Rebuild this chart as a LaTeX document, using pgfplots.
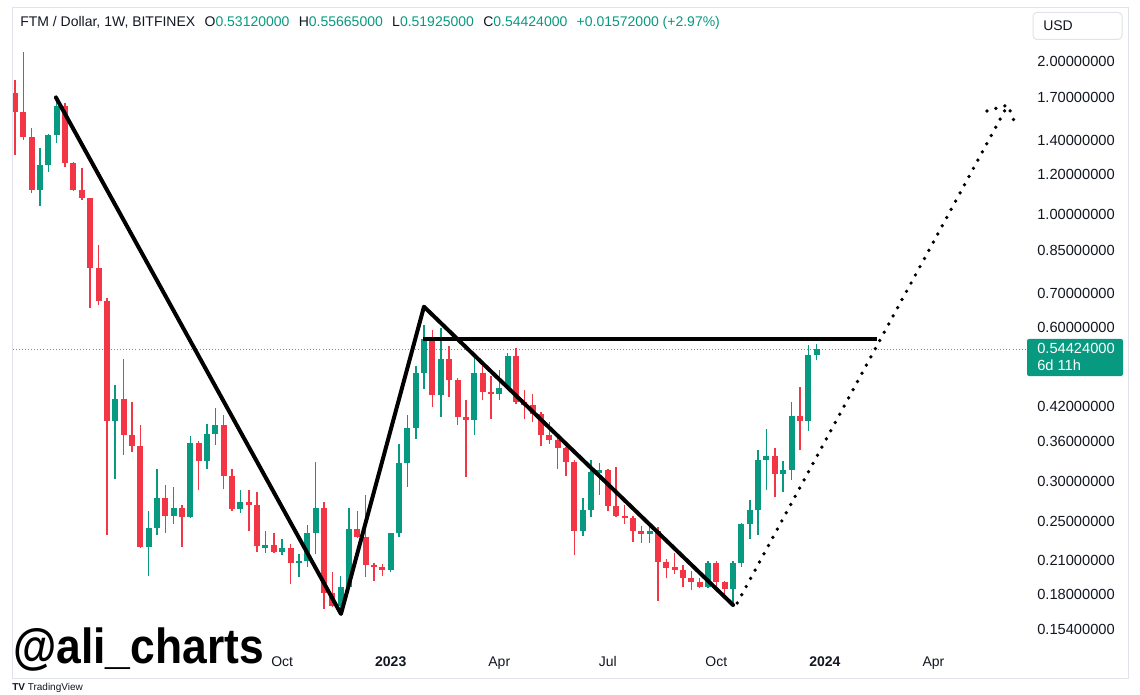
\documentclass[border=0pt]{standalone}
\usepackage{pgfplots}
\pgfplotsset{compat=1.18}
\usepackage{pgfplotstable}
\usepackage{fontspec}
\setmainfont{Liberation Sans}
\definecolor{tvgreen}{HTML}{089981}
\definecolor{tvred}{HTML}{F23645}
\definecolor{tvtext}{HTML}{131722}
\definecolor{tvframe}{HTML}{E0E3EB}

% weekly candles, FTM / Dollar, week 0 = 21 Feb 2022
\pgfplotstableread{
i o h l c
0 1.733 1.835 1.309 1.590
1 1.590 2.085 1.400 1.417
2 1.417 1.476 1.100 1.117
3 1.117 1.349 1.041 1.251
4 1.251 1.440 1.210 1.432
5 1.432 1.700 1.380 1.632
6 1.632 1.652 1.241 1.260
7 1.260 1.265 1.110 1.117
8 1.117 1.232 1.068 1.076
9 1.076 1.080 0.655 0.785
10 0.785 0.872 0.665 0.678
11 0.678 0.686 0.2355 0.395
12 0.395 0.464 0.303 0.436
13 0.436 0.521 0.338 0.370
14 0.370 0.430 0.342 0.352
15 0.352 0.387 0.222 0.2236
16 0.2236 0.262 0.196 0.243
17 0.243 0.317 0.2355 0.278
18 0.278 0.295 0.238 0.257
19 0.257 0.293 0.248 0.2665
20 0.2665 0.270 0.223 0.256
21 0.256 0.368 0.254 0.357
22 0.357 0.360 0.289 0.329
23 0.329 0.389 0.318 0.372
24 0.372 0.4185 0.354 0.387
25 0.387 0.405 0.2896 0.3075
26 0.3075 0.317 0.262 0.2646
27 0.2646 0.288 0.260 0.273
28 0.273 0.288 0.240 0.270
29 0.270 0.286 0.2185 0.224
30 0.2225 0.240 0.217 0.2250
31 0.2250 0.238 0.217 0.218
32 0.218 0.231 0.215 0.222
33 0.222 0.226 0.1887 0.2074
34 0.2074 0.216 0.1947 0.2095
35 0.2095 0.2466 0.2037 0.238
36 0.238 0.328 0.216 0.2658
37 0.2658 0.273 0.1685 0.1816
38 0.1816 0.1997 0.170 0.171
39 0.171 0.1958 0.165 0.1867
40 0.1867 0.266 0.185 0.2418
41 0.2418 0.2626 0.232 0.234
42 0.234 0.282 0.195 0.206
43 0.206 0.2075 0.1917 0.2035
44 0.2035 0.2065 0.1955 0.2015
45 0.2015 0.238 0.199 0.2374
46 0.2374 0.356 0.234 0.3256
47 0.3256 0.405 0.293 0.381
48 0.381 0.505 0.3634 0.490
49 0.490 0.608 0.455 0.5697
50 0.5697 0.594 0.419 0.443
51 0.443 0.599 0.402 0.521
52 0.521 0.553 0.440 0.474
53 0.474 0.478 0.387 0.4006
54 0.4006 0.433 0.306 0.396
55 0.396 0.528 0.370 0.490
56 0.490 0.505 0.433 0.450
57 0.450 0.482 0.3985 0.445
58 0.445 0.496 0.433 0.458
59 0.458 0.535 0.455 0.528
60 0.528 0.549 0.425 0.430
61 0.430 0.453 0.3985 0.424
62 0.424 0.445 0.392 0.407
63 0.407 0.410 0.352 0.370
64 0.370 0.393 0.355 0.362
65 0.362 0.370 0.318 0.3485
66 0.3485 0.351 0.3075 0.328
67 0.328 0.330 0.215 0.240
68 0.240 0.279 0.2346 0.264
69 0.264 0.3305 0.255 0.3135
70 0.3120 0.326 0.282 0.3155
71 0.3155 0.317 0.262 0.268
72 0.268 0.320 0.256 0.257
73 0.257 0.270 0.2476 0.2545
74 0.2545 0.257 0.2286 0.240
75 0.240 0.245 0.227 0.237
76 0.237 0.2445 0.227 0.240
77 0.240 0.2445 0.175 0.209
78 0.209 0.2115 0.1938 0.2027
79 0.2035 0.2177 0.198 0.2015
80 0.2015 0.206 0.1866 0.1938
81 0.1938 0.200 0.184 0.1910
82 0.191 0.1938 0.1855 0.1866
83 0.1866 0.2095 0.1855 0.208
84 0.208 0.210 0.1873 0.191
85 0.191 0.1915 0.177 0.185
86 0.185 0.2095 0.173 0.208
87 0.208 0.249 0.204 0.2476
88 0.2476 0.276 0.231 0.2637
89 0.2637 0.345 0.2355 0.3305
90 0.3305 0.3795 0.289 0.337
91 0.337 0.3485 0.280 0.310
92 0.310 0.3295 0.2865 0.316
93 0.316 0.430 0.302 0.403
94 0.403 0.459 0.345 0.394
95 0.394 0.555 0.376 0.5312
96 0.5312 0.55665 0.51925 0.54424
}\candles

\begin{document}
\begin{tikzpicture}
\useasboundingbox (0,0) rectangle (855pt,520.5pt);
\fill[white] (0,0) rectangle (855pt,520.5pt);

\begin{axis}[
    at={(9pt,34.5pt)}, anchor=south west,
    width=763.5pt, height=480pt, scale only axis,
    xmin=-0.36, xmax=121.56,
    ymode=log, ymin=0.1415, ymax=2.54,
    axis line style={draw=none},
    tick style={draw=none},
    xtick={32,45,58,71,84,97,110},
    xticklabels={Oct,\textbf{2023},Apr,Jul,Oct,\textbf{2024},Apr},
    xticklabel style={anchor=base, inner sep=0pt, yshift=-14pt,
        font=\fontsize{10.5}{12}\selectfont, text=tvtext},
    ytick={2,1.7,1.4,1.2,1,0.85,0.7,0.6,0.42,0.36,0.3,0.25,0.21,0.18,0.154},
    yticklabels={2.00000000,1.70000000,1.40000000,1.20000000,1.00000000,
        0.85000000,0.70000000,0.60000000,0.42000000,0.36000000,0.30000000,
        0.25000000,0.21000000,0.18000000,0.15400000},
    yticklabel pos=right,
    yticklabel style={anchor=west, inner sep=0pt, xshift=5.25pt,
        font=\fontsize{11}{12}\selectfont, text=tvtext},
]
% last price line
\addplot[tvgreen!80, line width=0.7pt, dash pattern=on 0.7pt off 1.6pt, forget plot]
    coordinates {(-1,0.54424) (123,0.54424)};

\pgfplotstablegetrowsof{\candles}
\pgfmathtruncatemacro\nrows{\pgfplotsretval-1}
\pgfplotsforeachungrouped \r in {0,...,\nrows}{
    \pgfplotstablegetelem{\r}{i}\of\candles \let\ci\pgfplotsretval
    \pgfplotstablegetelem{\r}{o}\of\candles \let\co\pgfplotsretval
    \pgfplotstablegetelem{\r}{h}\of\candles \let\ch\pgfplotsretval
    \pgfplotstablegetelem{\r}{l}\of\candles \let\cl\pgfplotsretval
    \pgfplotstablegetelem{\r}{c}\of\candles \let\cc\pgfplotsretval
    \ifdim\cc pt<\co pt \def\ccol{tvred}\else\def\ccol{tvgreen}\fi
    \edef\doit{%
        \noexpand\addplot[\ccol, line width=1.1pt, forget plot]
            coordinates {(\ci,\cl) (\ci,\ch)};
        \noexpand\addplot[\ccol, line width=4.5pt, line cap=butt, forget plot]
            coordinates {(\ci,\co) (\ci,\cc)};
    }%
    \doit
}

% drawn pattern
\addplot[black, line width=3pt, line cap=round, line join=round, forget plot]
    coordinates {(4.9,1.697) (39.04,0.165) (48.98,0.66) (86.0,0.1718)};
\addplot[black, line width=3pt, forget plot]
    coordinates {(48.9,0.5705) (103.2,0.5705)};
\addplot[black, line width=2.8pt, line cap=round, dash pattern=on 0pt off 7pt, forget plot]
    coordinates {(86.5,0.1734) (118.9,1.64)};
\addplot[black, line width=2.8pt, line cap=round, dash pattern=on 0pt off 7pt, forget plot]
    coordinates {(116.4,1.596) (118.9,1.64) (119.9,1.492)};
\end{axis}

\begin{scope}[x=0.75pt, y=-0.75pt, yshift=520.5pt]
\draw[tvframe, line width=0.75pt] (12,8) rectangle (1128,678);
\draw[tvframe, line width=0.75pt, rounded corners=3pt] (1033,12.5) rectangle (1122,39.5);
\node[anchor=base west, inner sep=0pt, text=tvtext, font=\fontsize{10.5}{12}\selectfont]
    at (1043,30.5) {USD};
\fill[tvgreen, rounded corners=1.5pt] (1027,339) rectangle (1123,376);
\node[anchor=base west, inner sep=0pt, white, font=\fontsize{11}{12}\selectfont]
    at (1037,354) {0.54424000};
\node[anchor=base west, inner sep=0pt, white, font=\fontsize{11}{12}\selectfont]
    at (1037,370) {6d 11h};
\node[anchor=base west, inner sep=0pt, text=tvtext, font=\fontsize{10.5}{12}\selectfont]
    at (20,27) {FTM / Dollar, 1W, BITFINEX\hspace{7pt}O\textcolor{tvgreen}{0.53120000}\hspace{7pt}H\textcolor{tvgreen}{0.55665000}\hspace{7pt}L\textcolor{tvgreen}{0.51925000}\hspace{7pt}C\textcolor{tvgreen}{0.54424000}\hspace{7pt}\textcolor{tvgreen}{+0.01572000 (+2.97\%)}};
\node[anchor=base west, inner sep=0pt, font=\fontsize{37}{42}\selectfont\bfseries, xscale=0.9]
    at (13,663) {@ali\_charts};
\node[anchor=north west, inner sep=0pt, font=\fontsize{7.5}{9}\selectfont, text=tvtext]
    at (12,682.5) {\textbf{TV} TradingView};
\end{scope}
\end{tikzpicture}
\end{document}
